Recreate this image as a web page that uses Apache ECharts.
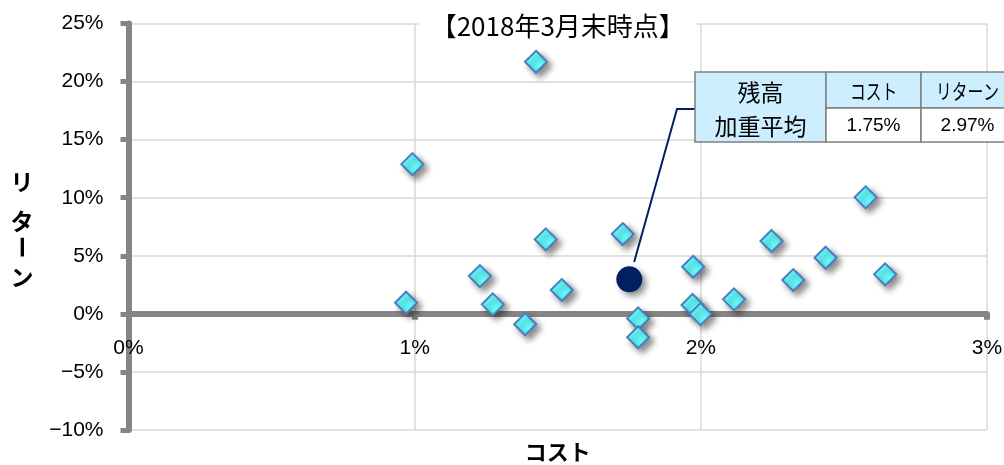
<!DOCTYPE html>
<html lang="ja">
<head>
<meta charset="utf-8">
<title>コストとリターン</title>
<script src="https://cdn.jsdelivr.net/npm/echarts@6/dist/echarts.min.js"></script>
<style>
  html, body { margin: 0; padding: 0; background: #ffffff; }
  #chart { width: 1004px; height: 465px; }
</style>
</head>
<body>
<div id="chart"></div>
<script>
// Cost (%) and return (%) of each fund
const costPct = [1.424, 0.992, 0.970, 1.228, 1.273, 1.386, 1.458, 1.514, 1.727, 1.781,
                 1.781, 1.973, 1.971, 1.999, 2.116, 2.247, 2.323, 2.436, 2.576, 2.644];
const returnPct = [21.70, 12.89, 0.96, 3.25, 0.82, -0.90, 6.41, 2.05, 6.87, -0.39,
                   -2.02, 4.05, 0.76, -0.02, 1.25, 6.27, 2.91, 4.83, 10.03, 3.40];

// Balance-weighted average
const avgCost = 1.75;
const avgReturn = 2.97;

// Axis ranges (%): min, max, step
const xRange = [0, 3, 1];
const yRange = [-10, 25, 5];

const titleText = '【2018年3月末時点】';
const xName = 'コスト';
const yNameChars = ['リ', 'タ', 'ー', 'ン'];
const tableHead = ['残高', '加重平均'];
const tableCols = ['コスト', 'リターン'];

const fmtPct = v => (v < 0 ? '\u2212' + Math.abs(v) : String(v)) + '%';

const LAT = '"Liberation Sans", Arial, sans-serif';
const JP = '"Noto Sans CJK JP", sans-serif';

const W = 1004, H = 465;
const gridBox = { left: 128.5, right: 17, top: 23.5, bottom: 35 };
const gridH = H - gridBox.top - gridBox.bottom;
// x labels sit just under the zero line, not at the grid bottom
const zeroFromBottom = gridH * (0 - yRange[0]) / (yRange[1] - yRange[0]);
const xLabelMargin = 24 - zeroFromBottom;

const chart = echarts.init(document.getElementById('chart'), null, { renderer: 'canvas' });

const fundData = costPct.map((c, i) => [c, returnPct[i]]);

const markerShadow = {
  shadowBlur: 6,
  shadowOffsetX: 4,
  shadowOffsetY: 4,
  shadowColor: 'rgba(0,0,0,0.45)'
};

chart.setOption({
  backgroundColor: '#ffffff',
  animation: false,
  grid: Object.assign({ containLabel: false, outerBoundsMode: 'none' }, gridBox),
  xAxis: {
    type: 'value',
    min: xRange[0], max: xRange[1], interval: xRange[2],
    axisLine: { show: true, onZero: true, lineStyle: { color: '#858585', width: 6 } },
    axisTick: { show: true, length: 6, lineStyle: { color: '#858585', width: 6 } },
    axisLabel: { formatter: fmtPct, color: '#000', fontFamily: LAT, fontSize: 21, margin: xLabelMargin },
    splitLine: { show: true, lineStyle: { color: '#d9d9d9', width: 1.5 } }
  },
  yAxis: {
    type: 'value',
    min: yRange[0], max: yRange[1], interval: yRange[2],
    axisLine: { show: true, onZero: false, lineStyle: { color: '#858585', width: 6 } },
    axisTick: { show: true, length: 8, lineStyle: { color: '#858585', width: 5 } },
    axisLabel: { formatter: fmtPct, color: '#000', fontFamily: LAT, fontSize: 21, margin: 25 },
    splitLine: { show: true, lineStyle: { color: '#d9d9d9', width: 1.5 } }
  },
  series: [
    {
      name: 'ファンド',
      type: 'scatter',
      symbol: 'diamond',
      symbolSize: 22,
      data: fundData,
      itemStyle: Object.assign({
        color: '#66ffff',
        borderColor: '#4a7ebf',
        borderWidth: 2,
        opacity: 1
      }, markerShadow),
      z: 3
    },
    {
      name: '残高加重平均',
      type: 'scatter',
      symbol: 'circle',
      symbolSize: 26,
      data: [[avgCost, avgReturn]],
      itemStyle: Object.assign({ color: '#002060', opacity: 1 }, markerShadow),
      z: 4
    }
  ]
});

// Annotation table, leader line, title and axis names
function buildGraphics() {
  const els = [];
  const plotCx = (chart.convertToPixel({ xAxisIndex: 0 }, xRange[0]) +
                  chart.convertToPixel({ xAxisIndex: 0 }, xRange[1])) / 2;

  // title with white box over the top gridline
  els.push({
    type: 'text', x: plotCx, y: 26, z: 100,
    style: {
      text: titleText, font: '26px ' + JP, fill: '#000',
      align: 'center', verticalAlign: 'middle',
      backgroundColor: '#ffffff', padding: [0, 12, 0, 12]
    }
  });

  // x axis name
  els.push({
    type: 'text', x: plotCx, y: 452, z: 100,
    style: { text: xName, font: 'bold 22px ' + JP, fill: '#000', align: 'center', verticalAlign: 'middle' }
  });

  // vertical y axis name, stacked characters
  const yCenters = [182, 221, 247, 277];
  yNameChars.forEach((ch, i) => {
    els.push({
      type: 'text', x: 22, y: yCenters[i], z: 100,
      rotation: ch === 'ー' ? Math.PI / 2 : 0,
      style: { text: ch, font: 'bold 23px ' + JP, fill: '#000', align: 'center', verticalAlign: 'middle' }
    });
  });

  // table
  const tx = 695, ty = 72;
  const cw = [131, 95, 95];
  const rh = [36, 34];
  const headFill = '#cdeeff';
  const border = '#7f7f7f';
  const cellStyle = fill => ({ fill: fill, stroke: border, lineWidth: 1.5 });

  els.push({ type: 'rect', z: 100, shape: { x: tx, y: ty, width: cw[0], height: rh[0] + rh[1] }, style: cellStyle(headFill) });
  els.push({ type: 'rect', z: 100, shape: { x: tx + cw[0], y: ty, width: cw[1], height: rh[0] }, style: cellStyle(headFill) });
  els.push({ type: 'rect', z: 100, shape: { x: tx + cw[0] + cw[1], y: ty, width: cw[2], height: rh[0] }, style: cellStyle(headFill) });
  els.push({ type: 'rect', z: 100, shape: { x: tx + cw[0], y: ty + rh[0], width: cw[1], height: rh[1] }, style: cellStyle('#ffffff') });
  els.push({ type: 'rect', z: 100, shape: { x: tx + cw[0] + cw[1], y: ty + rh[0], width: cw[2], height: rh[1] }, style: cellStyle('#ffffff') });

  els.push({
    type: 'text', z: 101, x: tx + cw[0] / 2, y: ty + 20,
    style: { text: tableHead[0], font: '23px ' + JP, fill: '#000', align: 'center', verticalAlign: 'middle' }
  });
  els.push({
    type: 'text', z: 101, x: tx + cw[0] / 2, y: ty + 54,
    style: { text: tableHead[1], font: '23px ' + JP, fill: '#000', align: 'center', verticalAlign: 'middle' }
  });
  const colCx = [tx + cw[0] + cw[1] / 2, tx + cw[0] + cw[1] + cw[2] / 2 - 1];
  tableCols.forEach((t, i) => {
    els.push({
      type: 'text', z: 101, x: colCx[i], y: ty + rh[0] / 2 + 1, scaleX: 0.75,
      style: { text: t, font: '21px ' + JP, fill: '#000', align: 'center', verticalAlign: 'middle' }
    });
  });
  [avgCost, avgReturn].forEach((v, i) => {
    els.push({
      type: 'text', z: 101, x: colCx[i], y: ty + rh[0] + rh[1] / 2 + 1,
      style: { text: v.toFixed(2) + '%', font: '19px ' + LAT, fill: '#000', align: 'center', verticalAlign: 'middle' }
    });
  });

  // leader line from the average marker to the table
  const p = chart.convertToPixel({ seriesIndex: 1 }, [avgCost, avgReturn]);
  const elbow = [tx - 18, ty + rh[0] + 1];
  const dx = elbow[0] - p[0], dy = elbow[1] - p[1];
  const len = Math.sqrt(dx * dx + dy * dy);
  const start = [p[0] + dx * 18 / len, p[1] + dy * 18 / len];
  els.push({
    type: 'polyline', z: 99,
    shape: { points: [start, elbow, [tx, elbow[1]]] },
    style: { stroke: '#002060', lineWidth: 2, fill: null }
  });

  chart.setOption({ graphic: { elements: els } });
}

buildGraphics();
</script>
</body>
</html>
